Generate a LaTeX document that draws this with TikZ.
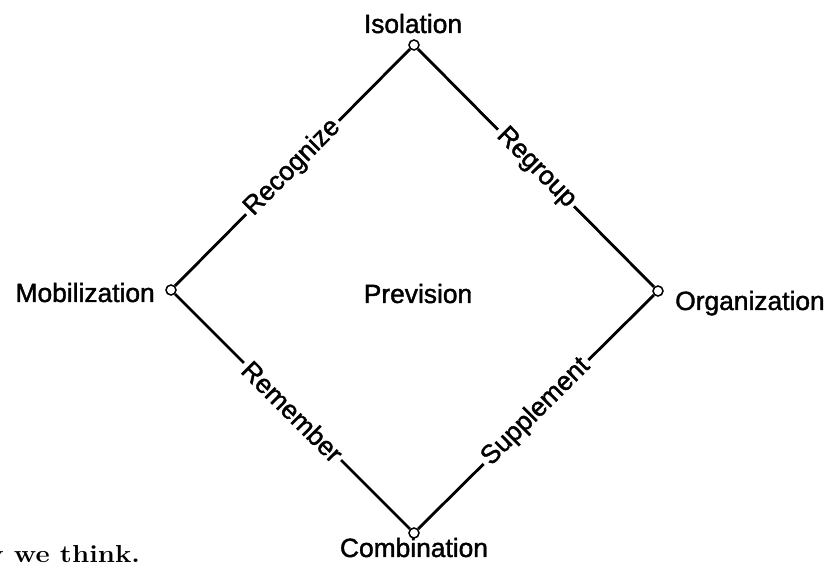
\documentclass[tikz,border=0pt]{standalone}
\usepackage{fontspec}
\usepackage{tikz}
\newfontfamily\gothic[FakeBold=1.5]{Liberation Sans}
\newcommand{\dgfont}{\gothic\fontsize{22.5}{26}\selectfont}
\tikzset{
  hub/.style      = {circle,draw,fill=white,line width=1.3pt,inner sep=0pt,minimum size=0.3cm},
  side/.style     = {line width=2.4pt},
  sidelbl/.style  = {sloped,fill=white,inner sep=0.1cm,font=\dgfont},
  hublbl/.style   = {inner sep=0pt,font=\dgfont}
}
\begin{document}
\begin{tikzpicture}[x=0.03cm,y=0.03cm]
  \useasboundingbox (0,0) rectangle (837,573);
  \node[hub] (iso)  at (414,528) {};
  \node[hub] (mob)  at (171,283) {};
  \node[hub] (org)  at (658,282) {};
  \node[hub] (comb) at (414,40) {};
  \draw[side] (mob)  -- node[sidelbl]{Recognize}  (iso);
  \draw[side] (iso)  -- node[sidelbl]{Regroup}    (org);
  \draw[side] (mob)  -- node[sidelbl]{Remember}   (comb);
  \draw[side] (comb) -- node[sidelbl]{Supplement} (org);
  \node[hublbl,anchor=base]      (isot)  at (413,540) {Isolation};
  \node[hublbl,anchor=base east] (mobt)  at (155,271) {Mobilization};
  \node[hublbl,anchor=base west] (orgt)  at (675,263) {Organization};
  \node[hublbl,anchor=base]      (combt) at (414,16)  {Combination};
  \node[hublbl,anchor=base]      (prev)  at (418,270) {Prevision};
  \node[inner sep=0pt,anchor=base west,xscale=1.12,font=\bfseries\fontsize{21}{25}\selectfont] (tail) at (-13,10) {y we think.};
\end{tikzpicture}
\end{document}
